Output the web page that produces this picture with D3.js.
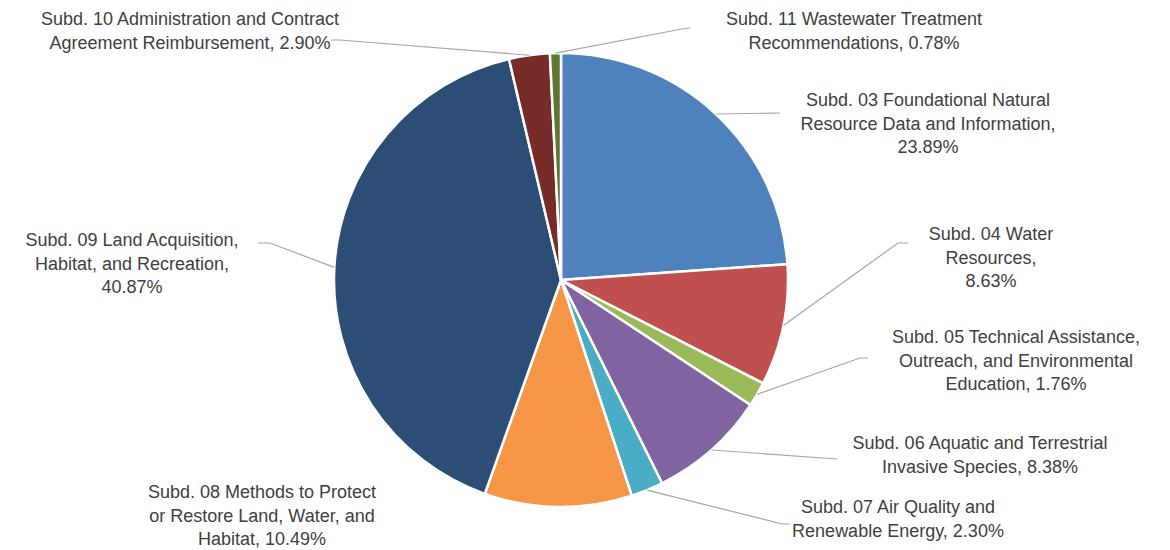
<!DOCTYPE html>
<html>
<head>
<meta charset="utf-8">
<script src="https://cdn.jsdelivr.net/npm/d3@7"></script>
<style>
  body { margin: 0; background: #fff; }
  #chart text { font-family: "Liberation Sans", Arial, sans-serif; font-size: 18px; fill: #404040; }
</style>
</head>
<body>
<div id="chart"></div>
<script>
const categories = [
  "Subd. 03 Foundational Natural Resource Data and Information",
  "Subd. 04 Water Resources",
  "Subd. 05 Technical Assistance, Outreach, and Environmental Education",
  "Subd. 06 Aquatic and Terrestrial Invasive Species",
  "Subd. 07 Air Quality and Renewable Energy",
  "Subd. 08 Methods to Protect or Restore Land, Water, and Habitat",
  "Subd. 09 Land Acquisition, Habitat, and Recreation",
  "Subd. 10 Administration and Contract Agreement Reimbursement",
  "Subd. 11 Wastewater Treatment Recommendations"
];
const shares = [23.89, 8.63, 1.76, 8.38, 2.30, 10.49, 40.87, 2.90, 0.78];

const colors = ["#4f81bd", "#c0504d", "#9bbb59", "#8064a2", "#4bacc6", "#f79646", "#2c4d75", "#772c2a", "#5f7530"];

// label placement: words per line, center x, first line y, leader elbow points
const labelLayout = [
  {words: [4, 4, 1], x: 928, y: 100, leader: [[780, 113]]},
  {words: [3, 1, 1], x: 991, y: 234, leader: [[898, 243], [908, 243]]},
  {words: [4, 3, 2], x: 1016, y: 337, leader: [[860, 358], [868, 358]]},
  {words: [5, 3], x: 980, y: 443, leader: [[837, 459]]},
  {words: [5, 3], x: 898, y: 507, leader: [[782, 524], [790, 524]]},
  {words: [5, 5, 2], x: 262, y: 492, leader: null},
  {words: [4, 3, 1], x: 132, y: 240, leader: [[270, 243], [258, 243]]},
  {words: [5, 3], x: 190, y: 19, leader: [[340, 40], [331, 40]]},
  {words: [4, 2], x: 854, y: 19, leader: [[682, 29], [690, 28]]}
];

const width = 1170;
const height = 550;
const cx = 561, cy = 280;
const radius = 227;
const lineH = 23.5;

const svg = d3.select("#chart")
  .append("svg")
  .attr("width", width)
  .attr("height", height);

const g = svg.append("g")
  .attr("transform", `translate(${cx}, ${cy})`);

const pie = d3.pie().sort(null).value(d => d);
const arcs = pie(shares);
const arc = d3.arc().innerRadius(0).outerRadius(radius);

g.selectAll("path.slice")
  .data(arcs)
  .enter()
  .append("path")
  .attr("class", "slice")
  .attr("d", arc)
  .attr("fill", (d, i) => colors[i])
  .attr("stroke", "white")
  .style("stroke-width", "2.5px");

// leader lines, from the slice edge at its mid angle
const line = d3.line();
arcs.forEach((d, i) => {
  const lay = labelLayout[i];
  if (!lay.leader) return;
  const a = (d.startAngle + d.endAngle) / 2;
  const start = [cx + radius * Math.sin(a), cy - radius * Math.cos(a)];
  svg.append("path")
    .attr("d", line([start, ...lay.leader]))
    .attr("fill", "none")
    .attr("stroke", "#a6a6a6")
    .style("stroke-width", "1.2px");
});

// labels
arcs.forEach((d, i) => {
  const lay = labelLayout[i];
  const words = `${categories[i]}, ${shares[i].toFixed(2)}%`.split(" ");
  const lines = [];
  let k = 0;
  lay.words.forEach(n => {
    lines.push(words.slice(k, k + n).join(" "));
    k += n;
  });
  const t = svg.append("text")
    .attr("text-anchor", "middle");
  lines.forEach((l, j) => {
    t.append("tspan")
      .attr("x", lay.x)
      .attr("y", lay.y + j * lineH)
      .attr("dy", "0.35em")
      .text(l);
  });
});
</script>
</body>
</html>
